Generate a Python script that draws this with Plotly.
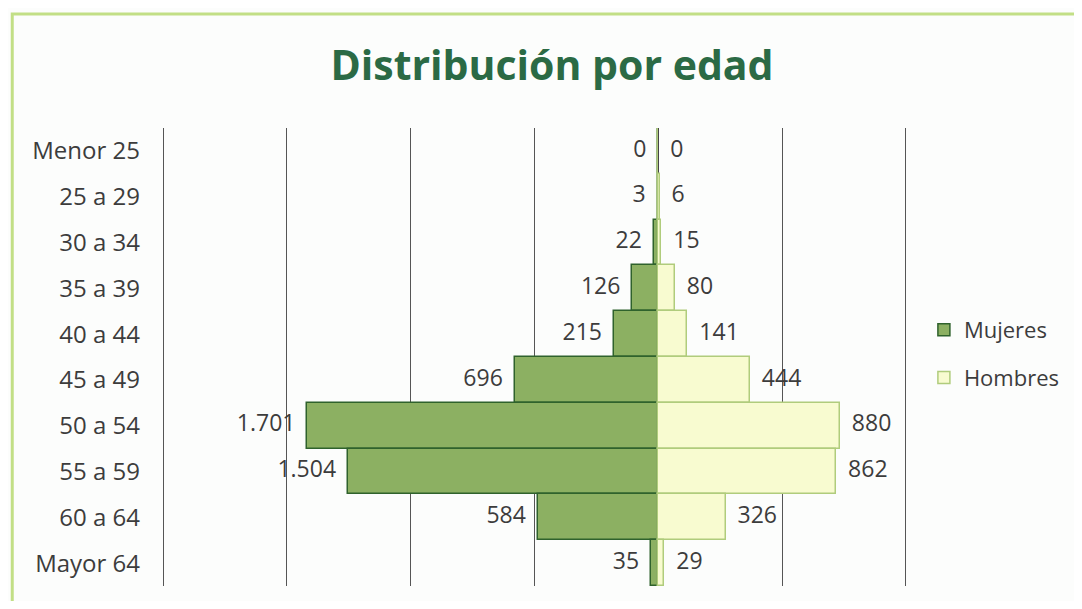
import plotly.graph_objects as go

categories = ["Menor 25", "25 a 29", "30 a 34", "35 a 39", "40 a 44",
              "45 a 49", "50 a 54", "55 a 59", "60 a 64", "Mayor 64"]
mujeres = [0, 3, 22, 126, 215, 696, 1701, 1504, 584, 35]
hombres = [0, 6, 15, 80, 141, 444, 880, 862, 326, 29]
grid_vals = [-2400, -1800, -1200, -600, 600, 1200]

W, H = 1082, 609
OFF = 8  # default page body margin
FW, FH = W - 2 * OFF, H - 2 * OFF

X_LEFT, X_RIGHT = 163, 906      # pixel positions of -2400 and 1200
PAD_L, PAD_R = 30, 15           # axis padding in data units
scale = (X_RIGHT - X_LEFT) / 3600.0
L = X_LEFT - PAD_L * scale - OFF
R = X_RIGHT + PAD_R * scale - OFF
T, B = 128 - OFF, 586 - OFF

FONT = "'Open Sans', sans-serif"
TXT = "#3c3c3c"

def fmt(v):
    return f"{v:,}".replace(",", ".")

fig = go.Figure()
fig.add_trace(go.Bar(
    y=categories, x=[-v for v in mujeres], orientation="h", name="Mujeres",
    legendgroup="m",
    marker=dict(color="#8cb062", line=dict(color="#2f622c", width=1.5)),
    hoverinfo="skip"))
fig.add_trace(go.Bar(
    y=categories, x=hombres, orientation="h", name="Hombres",
    legendgroup="h",
    marker=dict(color="#f8fbd0", line=dict(color="#b0cc7c", width=1.5)),
    hoverinfo="skip"))
fig.add_trace(go.Scatter(
    y=categories, x=[-v for v in mujeres], mode="text",
    text=[fmt(v) + "  " for v in mujeres], textposition="middle left",
    textfont=dict(family=FONT, size=23, color=TXT), showlegend=False,
    hoverinfo="skip", cliponaxis=False))
fig.add_trace(go.Scatter(
    y=categories, x=hombres, mode="text",
    text=["  " + fmt(v) for v in hombres], textposition="middle right",
    textfont=dict(family=FONT, size=23, color=TXT), showlegend=False,
    hoverinfo="skip", cliponaxis=False))

pw, ph = R - L, B - T
def px(x):
    return (x - OFF - L) / pw
def py(y):
    return (B - (y - OFF)) / ph

fig.update_layout(
    width=FW, height=FH,
    margin=dict(l=L, r=FW - R, t=T, b=FH - B, pad=0, autoexpand=False),
    paper_bgcolor="#fcfdfc", plot_bgcolor="#fcfdfc",
    barmode="relative", bargap=0,
    title=dict(text="<b>Distribución por edad</b>", x=(552 - OFF) / FW, xanchor="center",
               y=1 - (66 - OFF) / FH, yanchor="middle",
               font=dict(family=FONT, size=41, color="#2b6a45")),
    xaxis=dict(range=[-2400 - PAD_L, 1200 + PAD_R], tickvals=grid_vals,
               showticklabels=False, showgrid=True, gridcolor="#555555", gridwidth=1,
               zeroline=True, zerolinecolor="#444444", zerolinewidth=1.5,
               showline=False, fixedrange=True),
    yaxis=dict(categoryorder="array", categoryarray=categories, autorange="reversed",
               tickfont=dict(family=FONT, size=24, color=TXT),
               ticklabelstandoff=int(L - (140 - OFF)), showgrid=False,
               zeroline=False, showline=False),
    legend=dict(x=px(924), xanchor="left", y=py(354), yanchor="middle",
                font=dict(family=FONT, size=22, color=TXT),
                bgcolor="rgba(0,0,0,0)", itemwidth=30, tracegroupgap=16),
    showlegend=True,
    shapes=[dict(type="rect", xref="paper", yref="paper",
                 x0=px(12), x1=px(1095), y0=py(606), y1=py(14),
                 line=dict(color="#c2df86", width=3), layer="below")],
)

fig.write_html("out.html")
